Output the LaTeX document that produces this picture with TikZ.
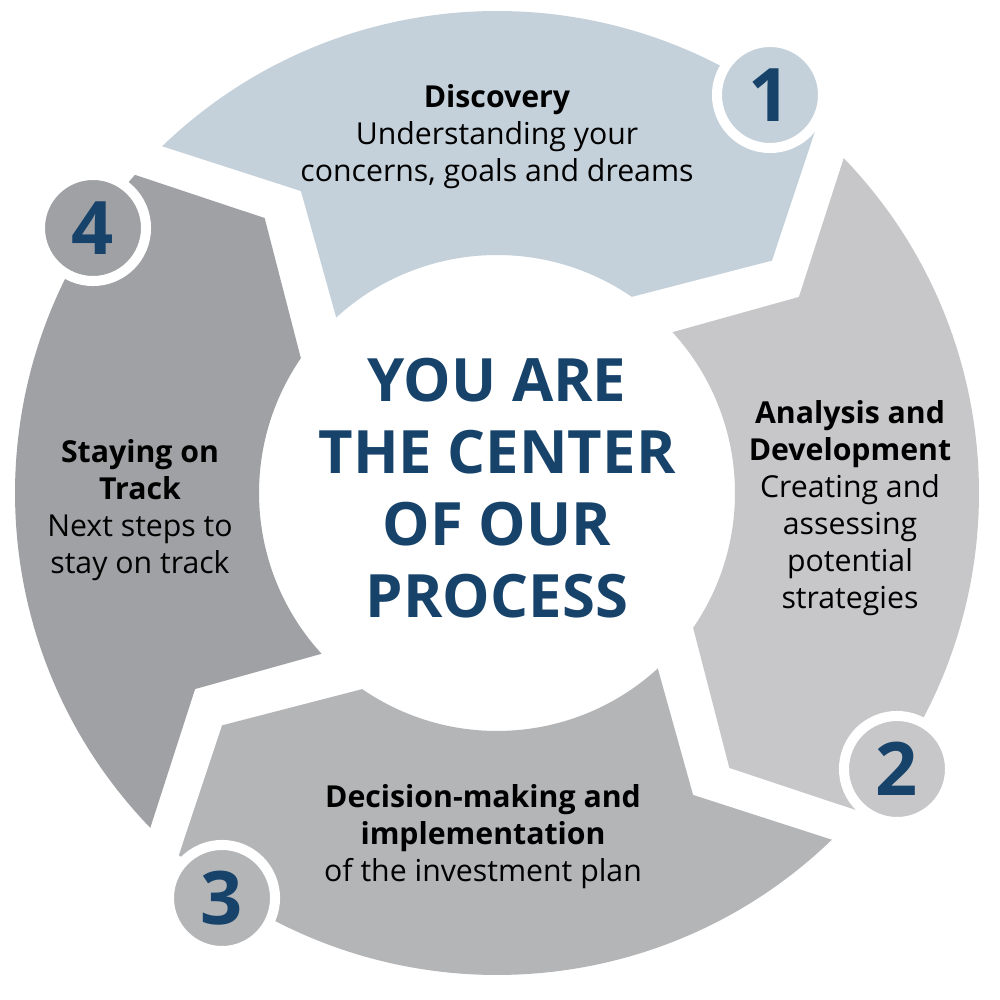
\documentclass[tikz,border=0pt]{standalone}
\usepackage{fontspec}
\setmainfont{Open Sans}
\begin{document}
\begin{tikzpicture}[x=0.01cm,y=0.01cm,
  lbl/.style={align=center,font=\fontsize{8.6}{10.5}\selectfont,text=black},
  numc/.style={circle,minimum size=1.06cm,inner sep=0,draw=white,line width=2.85pt,text=numblue,font=\fontsize{21}{21}\selectfont\bfseries}]
\definecolor{numblue}{HTML}{17436B}
\definecolor{cA}{HTML}{C5D1DA}
\definecolor{cB}{HTML}{C7C7C9}
\definecolor{cC}{HTML}{B4B5B7}
\definecolor{cD}{HTML}{A0A1A5}
\useasboundingbox[fill=white] (0,0) rectangle (1000,1000);
\begin{scope}[shift={(497,507)}]
\foreach \t/\c in {134/cA,44/cB,-46/cC,-136/cD}{
  \fill[\c] (\t:482) arc[start angle=\t, end angle=\t-85.3, radius=482]
    -- (\t-93.8:360) -- (\t-78.5:238) arc[start angle=\t-78.5, end angle=\t-1.5, radius=238]
    -- (\t-11:360) -- cycle;
}
\end{scope}
\node[numc,fill=cA] (n1) at (770,905) {1};
\node[numc,fill=cB] (n2) at (897,231) {2};
\node[numc,fill=cC] (n3) at (222,102) {3};
\node[numc,fill=cD] (n4) at (93,772) {4};
\node[align=center,text=numblue,font=\fontsize{17}{20.5}\selectfont\bfseries] (c) at (497,512) {YOU ARE\\THE CENTER\\OF OUR\\PROCESS};
\node[lbl] (l1) at (497,863) {\textbf{Discovery}\\Understanding your\\concerns, goals and dreams};
\node[lbl] (l2) at (850,492) {\textbf{Analysis and}\\\textbf{Development}\\Creating and\\assessing\\potential\\strategies};
\node[lbl] (l3) at (483,163) {\textbf{Decision-making and}\\\textbf{implementation}\\of the investment plan};
\node[lbl] (l4) at (140,490) {\textbf{Staying on}\\\textbf{Track}\\Next steps to\\stay on track};
\end{tikzpicture}
\end{document}
